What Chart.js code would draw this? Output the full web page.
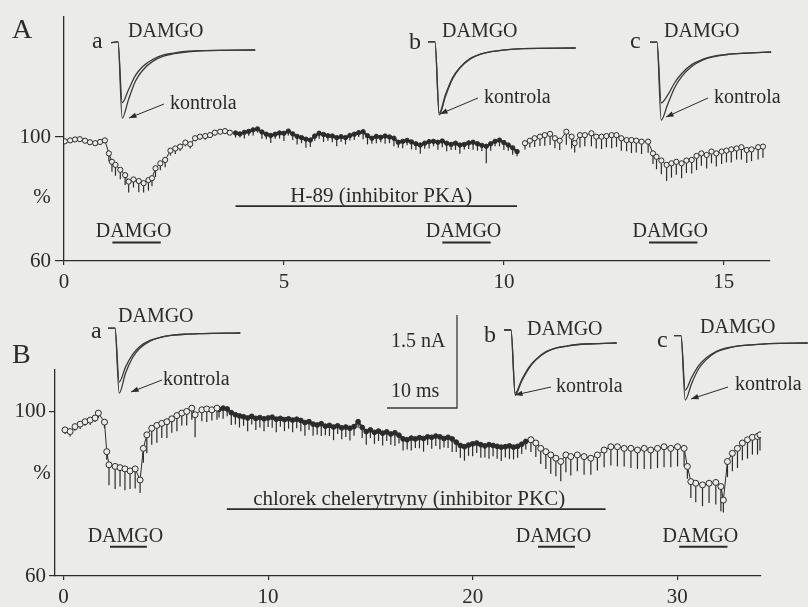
<!DOCTYPE html>
<html>
<head>
<meta charset="utf-8">
<script src="https://cdn.jsdelivr.net/npm/chart.js@4.4.1/dist/chart.umd.min.js"></script>
<style>
  html, body { margin: 0; padding: 0; background: #ebebea; }
  #wrap { position: relative; width: 808px; height: 607px; overflow: hidden; }
  #wrap canvas { position: absolute; }
</style>
</head>
<body>
<div id="wrap">
  <canvas id="chartA" width="808" height="300" style="left:0;top:0"></canvas>
  <canvas id="chartB" width="808" height="307" style="left:0;top:300px"></canvas>
</div>
<script>
// ---- panel A: czas (min) i amplituda (%) ----
const tA1 = [0.02, 0.14, 0.25, 0.36, 0.48, 0.59, 0.71, 0.82, 0.93, 1.02, 1.09, 1.17, 1.28, 1.39, 1.47, 1.58, 1.70, 1.81, 1.92, 2.00, 2.08, 2.19, 2.30, 2.42, 2.53, 2.64, 2.76, 2.87, 2.98, 3.09, 3.21, 3.32, 3.43, 3.55, 3.66, 3.77];
const vA1 = [98.6, 98.9, 99.2, 99.3, 98.8, 98.3, 98.0, 98.4, 98.9, 94.7, 92.0, 91.0, 89.4, 87.7, 85.6, 86.3, 85.8, 85.1, 86.1, 86.7, 89.9, 91.5, 92.6, 95.6, 96.3, 96.9, 98.2, 97.7, 99.6, 100.1, 100.3, 100.6, 101.4, 101.7, 101.9, 101.4];
const eA1 = [0.6, 0.6, 0.6, 0.8, 0.6, 0.8, 0.6, 0.8, 0.8, 2.5, 3.2, 3.5, 3.0, 3.2, 3.5, 2.6, 3.6, 3.0, 3.4, 2.6, 2.8, 2.2, 2.4, 1.6, 1.8, 1.4, 1.2, 1.4, 1.0, 1.0, 1.2, 0.8, 1.0, 0.8, 0.8, 0.8];

const tA2 = [3.9, 4.0, 4.1, 4.2, 4.3, 4.4, 4.5, 4.6, 4.7, 4.8, 4.9, 5.0, 5.1, 5.2, 5.3, 5.4, 5.5, 5.6, 5.7, 5.8, 5.9, 6.0, 6.1, 6.2, 6.3, 6.4, 6.5, 6.6, 6.7, 6.8, 6.9, 7.0, 7.1, 7.2, 7.3, 7.4, 7.5, 7.6, 7.7, 7.8, 7.9, 8.0, 8.1, 8.2, 8.3, 8.4, 8.5, 8.6, 8.7, 8.8, 8.9, 9.0, 9.1, 9.2, 9.3, 9.4, 9.5, 9.6, 9.7, 9.8, 9.9, 10.0, 10.1, 10.2, 10.3];
const vA2 = [101.3, 101.0, 101.5, 101.8, 102.3, 102.6, 101.6, 100.9, 100.5, 100.9, 101.3, 101.2, 101.9, 101.0, 100.2, 99.8, 99.3, 99.0, 100.3, 101.2, 100.8, 100.4, 100.3, 99.8, 100.1, 99.8, 100.5, 100.9, 101.4, 101.7, 100.4, 99.6, 100.2, 99.9, 100.3, 100.0, 99.6, 98.3, 98.6, 98.9, 98.4, 97.8, 97.4, 98.0, 98.5, 98.6, 98.3, 98.7, 98.0, 97.6, 98.0, 97.4, 97.6, 98.1, 98.3, 97.8, 97.3, 97.0, 97.8, 98.6, 99.0, 98.2, 97.4, 96.5, 95.3];
const eA2 = [1.5, 1.2, 2.0, 1.4, 1.8, 1.2, 2.2, 1.6, 2.4, 1.5, 1.8, 2.5, 1.4, 2.0, 2.6, 1.8, 2.8, 2.2, 1.5, 1.8, 2.4, 1.6, 2.0, 2.8, 1.7, 2.2, 1.6, 1.9, 1.4, 2.4, 2.8, 1.8, 2.2, 1.6, 2.5, 2.0, 2.6, 1.8, 2.2, 1.6, 2.4, 2.0, 2.8, 1.8, 2.2, 1.6, 2.4, 2.0, 2.6, 1.8, 2.2, 2.8, 1.6, 2.0, 2.4, 2.2, 1.8, 5.5, 2.2, 1.6, 2.0, 2.4, 1.8, 2.2, 1.5];

const tA3 = [10.48, 10.59, 10.70, 10.82, 10.93, 11.05, 11.16, 11.27, 11.42, 11.54, 11.61, 11.73, 11.84, 11.99, 12.10, 12.22, 12.33, 12.45, 12.56, 12.67, 12.79, 12.90, 13.01, 13.13, 13.28, 13.39, 13.47, 13.58, 13.70, 13.81, 13.92, 14.04, 14.15, 14.27, 14.38, 14.49, 14.61, 14.72, 14.83, 14.95, 15.06, 15.17, 15.29, 15.40, 15.52, 15.63, 15.78, 15.89];
const vA3 = [98.0, 98.8, 99.6, 100.1, 100.6, 101.0, 99.6, 98.8, 101.7, 100.1, 98.0, 100.6, 100.6, 101.2, 100.1, 100.1, 100.3, 100.6, 100.6, 99.6, 99.0, 99.0, 98.8, 98.5, 98.5, 94.7, 93.6, 92.4, 91.0, 91.5, 92.0, 91.5, 92.4, 92.6, 93.9, 94.7, 94.2, 95.3, 94.7, 95.3, 95.6, 96.0, 96.3, 96.7, 95.8, 96.0, 96.7, 96.9];
const eA3 = [2.0, 2.2, 2.8, 3.0, 3.4, 3.6, 3.2, 3.0, 4.2, 3.8, 3.0, 4.0, 3.6, 4.2, 3.8, 4.0, 3.6, 4.2, 3.8, 4.0, 3.6, 4.2, 3.8, 4.0, 3.6, 3.4, 4.0, 4.4, 5.2, 4.6, 4.2, 4.8, 4.0, 4.4, 4.6, 4.0, 4.4, 3.8, 4.2, 4.0, 3.8, 4.2, 3.6, 4.0, 4.2, 3.8, 4.0, 3.6];

const ticksXA = [0, 5, 10, 15];
const ticksYA = [60, 100];
const damgoA = [[1.1, 2.2], [8.6, 9.7], [13.3, 14.4]];
const h89A = [3.9, 10.3];

// ---- panel B ----
const tB1 = [0.07, 0.32, 0.56, 0.81, 1.05, 1.30, 1.54, 1.70, 2.00, 2.11, 2.22, 2.52, 2.76, 3.00, 3.25, 3.50, 3.74, 3.90, 4.07, 4.31, 4.56, 4.80, 5.05, 5.29, 5.54, 5.78, 6.02, 6.27, 6.43, 6.76, 7.00, 7.25, 7.50];
const vB1 = [95.6, 95.2, 96.4, 97.0, 97.6, 98.0, 98.5, 99.7, 97.5, 90.3, 87.1, 86.7, 86.4, 86.1, 85.6, 86.1, 83.4, 91.1, 94.4, 96.0, 96.7, 97.2, 97.6, 98.3, 99.1, 99.7, 100.1, 100.9, 99.3, 100.5, 100.7, 100.5, 100.9];
const eB1 = [1.0, 1.2, 1.0, 1.2, 1.0, 1.2, 1.0, 1.2, 1.5, 2.0, 5.0, 5.5, 4.6, 5.2, 4.4, 4.8, 3.2, 3.5, 4.5, 4.0, 4.2, 3.6, 4.0, 3.4, 3.8, 3.0, 3.4, 2.8, 5.5, 2.8, 3.2, 2.6, 2.8];

const tB2 = [7.6, 7.8, 8.0, 8.2, 8.4, 8.6, 8.8, 9.0, 9.2, 9.4, 9.6, 9.8, 10.0, 10.2, 10.4, 10.6, 10.8, 11.0, 11.2, 11.4, 11.6, 11.8, 12.0, 12.2, 12.4, 12.6, 12.8, 13.0, 13.2, 13.4, 13.6, 13.8, 14.0, 14.2, 14.4, 14.6, 14.8, 15.0, 15.2, 15.4, 15.6, 15.8, 16.0, 16.2, 16.4, 16.6, 16.8, 17.0, 17.2, 17.4, 17.6, 17.8, 18.0, 18.2, 18.4, 18.6, 18.8, 19.0, 19.2, 19.4, 19.6, 19.8, 20.0, 20.2, 20.4, 20.6, 20.8, 21.0, 21.2, 21.4, 21.6, 21.8, 22.0, 22.2, 22.4, 22.6];
const vB2 = [100.6, 100.9, 100.7, 99.8, 99.3, 99.0, 98.8, 98.5, 98.9, 98.4, 98.6, 98.3, 98.5, 98.7, 98.2, 98.4, 98.1, 98.3, 98.0, 98.2, 97.9, 97.4, 97.6, 97.0, 96.8, 97.1, 96.5, 96.7, 96.3, 96.6, 96.1, 96.3, 96.0, 96.4, 97.6, 96.2, 95.2, 95.6, 95.0, 95.3, 94.8, 95.1, 94.6, 94.9, 94.3, 93.4, 93.2, 93.6, 93.4, 93.7, 93.5, 93.9, 93.8, 94.1, 93.9, 93.5, 93.8, 93.4, 92.6, 91.8, 91.5, 91.9, 92.2, 92.4, 92.0, 91.7, 92.0, 91.8, 91.6, 91.4, 91.5, 91.7, 91.4, 91.6, 92.1, 92.8];
const eB2 = [2.0, 2.6, 1.8, 3.0, 2.4, 2.8, 2.2, 3.2, 2.0, 2.8, 2.4, 3.0, 2.2, 2.6, 3.2, 2.0, 2.8, 2.4, 3.0, 2.2, 2.6, 3.2, 2.0, 2.8, 2.4, 3.0, 2.2, 2.6, 3.2, 2.0, 2.8, 2.4, 3.0, 2.2, 1.5, 2.6, 3.2, 2.0, 2.8, 2.4, 3.0, 2.2, 2.6, 3.2, 2.0, 2.8, 2.4, 3.0, 2.2, 2.6, 3.2, 2.0, 2.8, 2.4, 3.0, 2.2, 2.6, 3.2, 2.4, 3.0, 3.4, 2.6, 3.0, 2.4, 3.2, 2.8, 3.4, 2.6, 3.0, 3.4, 2.6, 3.2, 3.0, 2.8, 2.4, 2.0];

const tB3 = [22.85, 23.09, 23.33, 23.58, 23.82, 24.07, 24.31, 24.56, 24.80, 25.12, 25.45, 25.78, 26.10, 26.43, 26.76, 27.08, 27.41, 27.74, 28.06, 28.39, 28.71, 29.04, 29.36, 29.69, 30.02, 30.34, 30.50, 30.67, 30.91, 31.24, 31.56, 31.89, 32.14, 32.26, 32.46, 32.70, 32.95, 33.19, 33.44, 33.68, 33.93, 34.05];
const vB3 = [93.2, 92.4, 91.1, 90.3, 89.5, 88.7, 87.9, 89.5, 89.1, 89.5, 89.1, 88.7, 89.5, 90.7, 91.5, 91.5, 91.1, 91.1, 90.7, 91.1, 90.7, 91.1, 91.5, 91.1, 91.5, 91.1, 86.7, 83.0, 82.6, 82.2, 82.6, 82.8, 81.8, 78.5, 87.9, 89.9, 91.1, 92.4, 93.2, 93.8, 94.0, 94.4];
const eB3 = [3.0, 3.4, 3.8, 4.2, 4.6, 4.4, 4.8, 4.2, 4.6, 4.0, 4.4, 4.0, 3.8, 4.2, 4.6, 4.8, 4.4, 4.8, 4.6, 5.0, 4.6, 4.8, 5.0, 4.6, 4.8, 4.4, 3.0, 4.0, 4.6, 5.2, 4.8, 5.4, 6.0, 3.0, 3.8, 4.4, 4.8, 4.2, 4.6, 4.2, 4.4, 3.8];

const ticksXB = [0, 10, 20, 30];
const ticksYB = [60, 100];
const damgoB = [[2.27, 4.07], [23.2, 25.0], [30.1, 32.46]];
const chlorekB = [7.98, 26.5];

// ---- wkładki: prądy (ms, nA) ----
const traceMs = [-1.0, 0, 0.6, 1.5, 2.5, 3.5, 5, 6.5, 8, 10, 12.5];
const ctrlAa  = [0.12, 0.13, -1.10, -0.80, -0.50, -0.33, -0.18, -0.10, -0.06, -0.03, -0.01];
const damgoAa = [0.12, 0.13, -0.85, -0.64, -0.41, -0.27, -0.15, -0.08, -0.05, -0.02, -0.01];
const ctrlAb  = [0.10, 0.10, -1.08, -0.78, -0.50, -0.33, -0.18, -0.10, -0.06, -0.03, -0.01];
const damgoAb = [0.10, 0.10, -1.05, -0.75, -0.48, -0.32, -0.17, -0.10, -0.06, -0.03, -0.01];
const ctrlAc  = [0.16, 0.16, -1.10, -0.85, -0.58, -0.40, -0.23, -0.13, -0.08, -0.04, -0.02];
const damgoAc = [0.16, 0.16, -0.82, -0.70, -0.50, -0.35, -0.20, -0.12, -0.07, -0.04, -0.02];
const ctrlBa  = [0.08, 0.08, -0.97, -0.65, -0.40, -0.25, -0.13, -0.07, -0.04, -0.02, -0.01];
const damgoBa = [0.08, 0.08, -0.79, -0.55, -0.35, -0.22, -0.12, -0.07, -0.04, -0.02, -0.01];
const ctrlBb  = [0.21, 0.21, -0.84, -0.62, -0.42, -0.28, -0.15, -0.08, -0.05, -0.02, -0.01];
const damgoBb = [0.21, 0.21, -0.81, -0.60, -0.40, -0.27, -0.14, -0.08, -0.05, -0.02, -0.01];
const ctrlBc  = [0.12, 0.12, -0.92, -0.66, -0.42, -0.28, -0.15, -0.09, -0.05, -0.03, -0.01];
const damgoBc = [0.12, 0.12, -0.76, -0.56, -0.37, -0.25, -0.14, -0.08, -0.05, -0.03, -0.01];
const insetEndMs = [19.6, 20.1, 16.3, 17.9, 15.1, 18.1];
const scaleBarMs = 10, scaleBarNa = 1.5;

const ink = '#2b2b2b';
const paper = '#ebebea';
const serif = '"Liberation Serif", "DejaVu Serif", serif';
Chart.defaults.font.family = serif;
Chart.defaults.color = ink;

const pts = (t, v) => t.map((x, i) => ({ x: x, y: v[i] }));

// słupki błędów w dół
const errorBars = {
  id: 'errorBars',
  beforeDatasetsDraw(chart) {
    const ctx = chart.ctx, ys = chart.scales.y;
    chart.data.datasets.forEach((ds, i) => {
      if (!ds.errDown) return;
      ctx.save();
      ctx.strokeStyle = ink;
      ctx.lineWidth = 1.2;
      chart.getDatasetMeta(i).data.forEach((p, j) => {
        ctx.beginPath();
        ctx.moveTo(p.x, p.y);
        ctx.lineTo(p.x, ys.getPixelForValue(ds.data[j].y - ds.errDown[j]));
        ctx.stroke();
      });
      ctx.restore();
    });
  }
};

// napisy panelu
const panelText = {
  id: 'panelText',
  afterDraw(chart, args, o) {
    const ctx = chart.ctx, xs = chart.scales.x, ys = chart.scales.y;
    ctx.save();
    ctx.fillStyle = ink;
    ctx.strokeStyle = ink;
    ctx.textBaseline = 'alphabetic';
    ctx.textAlign = 'left';
    ctx.font = '28px ' + serif;
    ctx.fillText(o.letter, 12, o.letterY);

    ctx.font = '21px ' + serif;
    ctx.textAlign = 'center';
    ctx.textBaseline = 'middle';
    ctx.fillText('%', 42, ys.getPixelForValue(o.pctAt));
    ctx.textBaseline = 'alphabetic';
    ctx.fillText('min', xs.getPixelForValue(o.minAt), xs.bottom + 28);

    ctx.font = '20px ' + serif;
    o.damgo.forEach(r => {
      const x1 = xs.getPixelForValue(r[0]), x2 = xs.getPixelForValue(r[1]);
      const y = ys.getPixelForValue(o.damgoAt);
      ctx.lineWidth = 2;
      ctx.beginPath(); ctx.moveTo(x1, y); ctx.lineTo(x2, y); ctx.stroke();
      ctx.fillText('DAMGO', (x1 + x2) / 2 - 3, y - 5);
    });

    const d1 = xs.getPixelForValue(o.drug[0]), d2 = xs.getPixelForValue(o.drug[1]);
    const dy = ys.getPixelForValue(o.drugAt);
    ctx.lineWidth = 1.6;
    ctx.beginPath(); ctx.moveTo(d1, dy); ctx.lineTo(d2, dy); ctx.stroke();
    ctx.font = '21px ' + serif;
    ctx.fillText(o.drugText, (d1 + d2) / 2 + o.drugShift, dy - 4);
    ctx.restore();
  }
};

function panelChart(id, c) {
  const sets = c.series.map(s => ({
    data: pts(s.t, s.v),
    errDown: s.e,
    showLine: true,
    borderColor: ink,
    borderWidth: s.filled ? 2.2 : 1,
    pointRadius: s.filled ? c.rFilled : c.rOpen,
    pointBackgroundColor: s.filled ? ink : paper,
    pointBorderColor: ink,
    pointBorderWidth: 1
  }));
  return new Chart(document.getElementById(id), {
    type: 'scatter',
    data: { datasets: sets },
    options: {
      responsive: false,
      animation: false,
      events: [],
      layout: { padding: { left: 0, top: c.top, right: c.right, bottom: 0 } },
      plugins: { legend: { display: false }, tooltip: { enabled: false }, panelText: c.text },
      scales: {
        x: {
          type: 'linear', min: c.xMin, max: c.xMax,
          afterFit: s => { s.height = c.xH; },
          afterBuildTicks: s => { s.ticks = c.xTicks.map(v => ({ value: v })); },
          grid: { drawOnChartArea: false, tickLength: 4, color: ink, lineWidth: 1.2 },
          border: { color: ink, width: 1.3 },
          ticks: { color: ink, font: { size: 21 }, padding: 5, maxRotation: 0 }
        },
        y: {
          type: 'linear', min: 60, max: c.yMax,
          afterFit: s => { s.width = c.yW; },
          afterBuildTicks: s => { s.ticks = c.yTicks.map(v => ({ value: v })); },
          grid: { drawOnChartArea: false, tickLength: c.yTick, color: ink, lineWidth: 1.2 },
          border: { color: ink, width: 1.3 },
          ticks: { color: ink, font: { size: 21 }, padding: c.yPad }
        }
      }
    },
    plugins: [errorBars, panelText]
  });
}

panelChart('chartA', {
  series: [
    { t: tA1, v: vA1, e: eA1 },
    { t: tA2, v: vA2, e: eA2, filled: true },
    { t: tA3, v: vA3, e: eA3 }
  ],
  rOpen: 2.6, rFilled: 2.2,
  top: 17, right: 38, xH: 39, yW: 64, yTick: 9, yPad: 4,
  xMin: 0, xMax: 16.05, yMax: 138.7,
  xTicks: ticksXA, yTicks: ticksYA,
  text: { letter: 'A', letterY: 38, pctAt: 80.5, minAt: 12.5, damgo: damgoA, damgoAt: 66,
          drug: h89A, drugAt: 77.7, drugText: 'H-89 (inhibitor PKA)', drugShift: 5 }
});

panelChart('chartB', {
  series: [
    { t: tB1, v: vB1, e: eB1 },
    { t: tB2, v: vB2, e: eB2, filled: true },
    { t: tB3, v: vB3, e: eB3 }
  ],
  rOpen: 3, rFilled: 2.4,
  top: 70, right: 47, xH: 31, yW: 55, yTick: 6, yPad: 3,
  xMin: -0.42, xMax: 34.1, yMax: 110.2,
  xTicks: ticksXB, yTicks: ticksYB,
  text: { letter: 'B', letterY: 63, pctAt: 84.9, minAt: 26.3, damgo: damgoB, damgoAt: 67.1,
          drug: chlorekB, drugAt: 76.3, drugText: 'chlorek chelerytryny (inhibitor PKC)', drugShift: -7 }
});

// ---- wkładki ----
const PX_MS = 7, PX_NA = 62;
const wrap = document.getElementById('wrap');

const insetText = {
  id: 'insetText',
  afterDraw(chart, args, o) {
    const ctx = chart.ctx;
    ctx.save();
    ctx.fillStyle = ink;
    ctx.strokeStyle = ink;
    ctx.textBaseline = 'alphabetic';
    ctx.textAlign = 'left';
    o.labels.forEach(l => {
      ctx.font = l.size + 'px ' + serif;
      ctx.fillText(l.text, l.x - o.box.l, l.y - o.box.t);
    });
    if (o.arrow) {
      const a = o.arrow;
      const x1 = a[0] - o.box.l, y1 = a[1] - o.box.t, x2 = a[2] - o.box.l, y2 = a[3] - o.box.t;
      const ang = Math.atan2(y2 - y1, x2 - x1);
      ctx.lineWidth = 1;
      ctx.beginPath(); ctx.moveTo(x1, y1); ctx.lineTo(x2, y2); ctx.stroke();
      ctx.beginPath();
      ctx.moveTo(x2, y2);
      ctx.lineTo(x2 - 8 * Math.cos(ang - 0.35), y2 - 8 * Math.sin(ang - 0.35));
      ctx.lineTo(x2 - 8 * Math.cos(ang + 0.35), y2 - 8 * Math.sin(ang + 0.35));
      ctx.closePath(); ctx.fill();
    }
    ctx.restore();
  }
};

function inset(box, series, opts) {
  const c = document.createElement('canvas');
  c.width = box.r - box.l;
  c.height = box.b - box.t;
  c.style.left = box.l + 'px';
  c.style.top = box.t + 'px';
  wrap.appendChild(c);
  new Chart(c, {
    type: 'scatter',
    data: {
      datasets: series.map(s => ({
        data: s,
        showLine: true,
        borderColor: '#3a3a3a',
        borderWidth: 1.3,
        pointRadius: 0,
        cubicInterpolationMode: 'monotone'
      }))
    },
    options: {
      responsive: false,
      animation: false,
      events: [],
      layout: { padding: 0 },
      plugins: { legend: { display: false }, tooltip: { enabled: false },
                 insetText: { box: box, labels: opts.labels, arrow: opts.arrow } },
      scales: {
        x: { type: 'linear', display: false, min: (box.l - box.x0) / PX_MS, max: (box.r - box.x0) / PX_MS },
        y: { type: 'linear', display: false, min: (box.y0 - box.b) / PX_NA, max: (box.y0 - box.t) / PX_NA }
      }
    },
    plugins: [insetText]
  });
}

function trace(v, end) {
  return pts(traceMs, v).concat([{ x: end, y: 0 }]);
}

const L = (text, x, y, size) => ({ text: text, x: x, y: y, size: size || 20 });

inset({ l: 85, t: 12, r: 262, b: 126, x0: 118, y0: 50 },
  [trace(ctrlAa, insetEndMs[0]), trace(damgoAa, insetEndMs[0])],
  { labels: [L('a', 92, 48, 24), L('DAMGO', 128, 37), L('kontrola', 170, 109)], arrow: [164, 104, 129, 118] });
inset({ l: 400, t: 12, r: 585, b: 122, x0: 435, y0: 48 },
  [trace(ctrlAb, insetEndMs[1]), trace(damgoAb, insetEndMs[1])],
  { labels: [L('b', 409, 49, 24), L('DAMGO', 442, 37), L('kontrola', 484, 103)], arrow: [478, 98, 440, 114] });
inset({ l: 622, t: 12, r: 800, b: 128, x0: 657, y0: 52 },
  [trace(ctrlAc, insetEndMs[2]), trace(damgoAc, insetEndMs[2])],
  { labels: [L('c', 630, 48, 24), L('DAMGO', 664, 37), L('kontrola', 714, 103)], arrow: [708, 98, 666, 117] });
inset({ l: 85, t: 300, r: 248, b: 400, x0: 115, y0: 333 },
  [trace(ctrlBa, insetEndMs[3]), trace(damgoBa, insetEndMs[3])],
  { labels: [L('a', 91, 338, 24), L('DAMGO', 118, 322), L('kontrola', 163, 385)], arrow: [162, 380, 131, 392] });
inset({ l: 480, t: 305, r: 640, b: 402, x0: 511, y0: 343 },
  [trace(ctrlBb, insetEndMs[4]), trace(damgoBb, insetEndMs[4])],
  { labels: [L('b', 484, 342, 24), L('DAMGO', 527, 335), L('kontrola', 556, 392)], arrow: [551, 387, 515, 395] });
inset({ l: 650, t: 305, r: 808, b: 408, x0: 681, y0: 343 },
  [trace(ctrlBc, insetEndMs[5]), trace(damgoBc, insetEndMs[5])],
  { labels: [L('c', 657, 347, 24), L('DAMGO', 700, 333), L('kontrola', 735, 390)], arrow: [728, 387, 691, 399] });

// skala 1.5 nA / 10 ms
inset({ l: 380, t: 308, r: 462, b: 414, x0: 387, y0: 408 },
  [[{ x: 0, y: 0 }, { x: scaleBarMs, y: 0 }, { x: scaleBarMs, y: scaleBarNa }]],
  { labels: [L('1.5 nA', 391, 347), L('10 ms', 391, 397)] });
</script>
</body>
</html>
